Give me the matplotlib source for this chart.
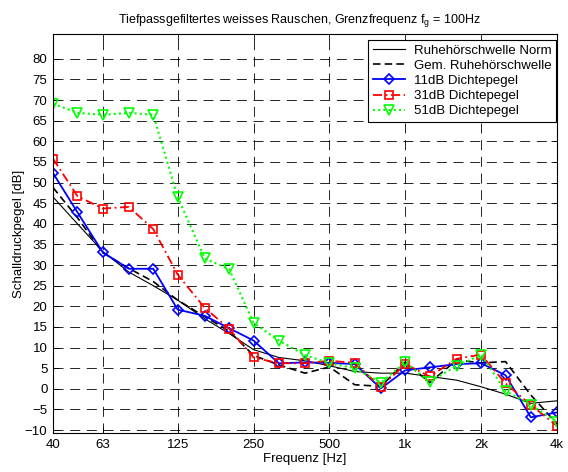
import matplotlib
matplotlib.use("Agg")
import matplotlib.pyplot as plt

plt.rcParams['font.family'] = ['Liberation Sans', 'DejaVu Sans']
plt.rcParams['mathtext.fontset'] = 'custom'
plt.rcParams['mathtext.rm'] = 'Liberation Sans'
plt.rcParams['mathtext.it'] = 'Liberation Sans'

freqs = [40, 50, 63, 80, 100, 125, 160, 200, 250, 315, 400, 500, 630, 800,
         1000, 1250, 1600, 2000, 2500, 3150, 4000]

norm = [46.5, 40.0, 33.3, 28.3, 25.0, 21.5, 17.0, 13.4, 9.5, 7.6, 6.8, 5.6,
        4.2, 3.8, 3.8, 3.0, 2.1, 0.5, -1.3, -3.5, -2.9]
gem = [48.8, 41.5, 33.0, 29.2, 26.0, 21.5, 17.5, 14.0, 8.1, 5.8, 3.8, 5.3,
       1.0, 0.6, 6.5, 1.5, 7.0, 6.3, 6.6, -1.5, -8.5]
db11 = [52.3, 42.8, 33.1, 29.1, 29.1, 19.2, 17.7, 14.7, 11.7, 6.2, 6.4, 6.3,
        6.0, 0.1, 4.5, 5.2, 6.0, 6.2, 3.3, -6.9, -5.7]
db31 = [55.8, 46.7, 43.7, 44.1, 38.7, 27.7, 19.6, 14.6, 7.6, 6.2, 6.2, 6.8,
        6.3, 0.4, 6.0, 3.0, 7.3, 8.3, 1.3, -3.9, -9.0]
db51 = [69.1, 66.9, 66.4, 66.9, 66.4, 46.5, 31.6, 29.0, 16.0, 11.7, 8.2, 6.2,
        5.0, 1.5, 6.4, 1.7, 5.6, 8.2, -0.5, -3.9, -8.0]

xticks = [40, 63, 125, 250, 500, 1000, 2000, 4000]
xticklabels = ['40', '63', '125', '250', '500', '1k', '2k', '4k']
yticks = list(range(-10, 81, 5))

fig = plt.figure(figsize=(5.68, 4.72), dpi=100)
ax = fig.add_axes([53/568, 1 - 433/472, 504/568, 399/472])

ax.plot(freqs, norm, color='black', lw=0.8, ls='-', label='Ruhehörschwelle Norm')
ax.plot(freqs, gem, color='black', lw=1.2, ls=(0, (4.5, 2.5)), label='Gem. Ruhehörschwelle')
ax.plot(freqs, db11, color='blue', lw=1.3, ls='-', marker='D', ms=5.2, mfc='none',
        mew=1.2, label='11dB Dichtepegel')
ax.plot(freqs, db31, color='red', lw=1.3, ls=(0, (5, 2, 1, 2)), marker='s', ms=6.2, mfc='none',
        mew=1.2, label='31dB Dichtepegel')
ax.plot(freqs, db51, color='#00ff00', lw=1.5, ls=(0, (1, 1.5)), marker='v', ms=7, mfc='none',
        mew=1.2, label='51dB Dichtepegel')

ax.set_xscale('log')
ax.set_xlim(40, 4000)
ax.set_ylim(-10.7, 86)
ax.set_xticks(xticks)
ax.set_xticklabels(xticklabels)
ax.xaxis.set_minor_locator(matplotlib.ticker.NullLocator())
ax.set_yticks(yticks)

ax.grid(True, color='black', ls=(0, (12, 8)), lw=0.6)
ax.tick_params(direction='in', top=True, right=True, length=4, width=0.6,
               labelsize=9.5, pad=4)
for s in ax.spines.values():
    s.set_linewidth(0.8)

ax.set_title('Tiefpassgefiltertes weisses Rauschen, Grenzfrequenz f$_{\\mathrm{g}}$ = 100Hz',
             fontsize=9, pad=8, x=0.488)
ax.set_xlabel('Frequenz [Hz]', fontsize=9.5, labelpad=2)
ax.set_ylabel('Schalldruckpegel [dB]', fontsize=9.5)
ax.yaxis.set_label_coords(-0.056, 0.5)

leg = ax.legend(loc='upper right', bbox_to_anchor=(0.998, 0.985), borderaxespad=0,
                fontsize=9.5, frameon=True, fancybox=False, framealpha=1,
                edgecolor='black', handlelength=2.4, labelspacing=0.22,
                borderpad=0.35, handletextpad=0.7)
leg.get_frame().set_linewidth(0.8)

fig.savefig('out.png', dpi=100)
